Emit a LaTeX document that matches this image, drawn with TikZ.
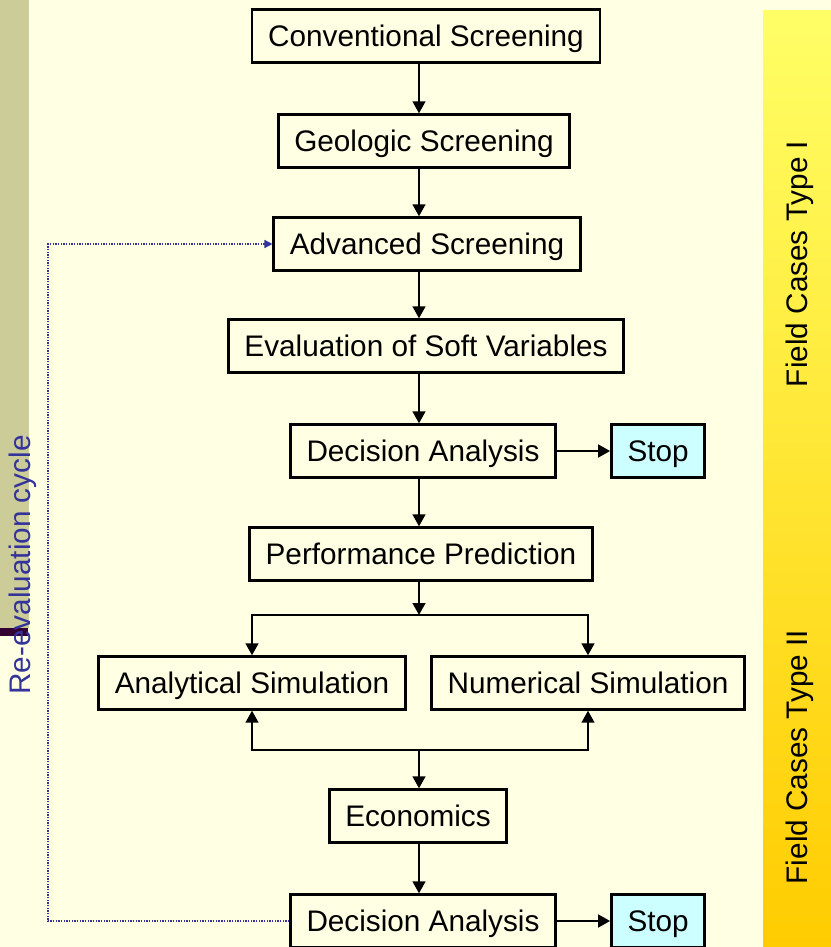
\documentclass[tikz,border=0pt]{standalone}
\usepackage{fontspec}
\setmainfont{Liberation Sans}
\usetikzlibrary{positioning,arrows.meta,calc}
\definecolor{paper}{HTML}{FFFFE3}
\definecolor{strip}{HTML}{CCCC99}
\definecolor{stripbar}{HTML}{330033}
\definecolor{stopcyan}{HTML}{CCFFFF}
\definecolor{loopblue}{HTML}{333399}
\definecolor{barTop}{HTML}{FFFF66}
\definecolor{barBottom}{HTML}{FFCC00}

\begin{document}
\begin{tikzpicture}[x=0.75pt, y=-0.75pt,
  box/.style={draw, rectangle, line width=2pt, minimum height=39.5pt, inner xsep=12pt,
    text height=15.8pt, text depth=0pt, font=\fontsize{22.3}{26}\selectfont},
  stopbox/.style={box, fill=stopcyan},
  sidetext/.style={rotate=90, font=\fontsize{22.3}{26}\selectfont},
  flow/.style={line width=1.8pt, -{Triangle[length=9pt,width=9.5pt]}},
  backloop/.style={draw=loopblue, densely dotted, line width=1pt, -{Triangle[length=6pt,width=6pt]}}]
\useasboundingbox (0,0) rectangle (831,947);
\clip (0,0) rectangle (831,947);
% background and side bars
\fill[paper] (0,0) rectangle (831,947);
\fill[strip] (0,0) rectangle (29,628);
\fill[stripbar] (0,628) rectangle (28,636);
\shade[top color=barTop, bottom color=barBottom] (763,10) rectangle (831,947);
\node[sidetext] (typeI) at (800,264) {Field Cases Type I};
\node[sidetext] (typeII) at (800,757) {Field Cases Type II};
\node[sidetext, text=loopblue] (recycle) at (23,565) {Re-evaluation cycle};

% the chart
\node[box] (conv) at (426,36) {Conventional Screening};
\node[box] (geo) at (424,141) {Geologic Screening};
\node[box] (adv) at (427,244) {Advanced Screening};
\node[box] (soft) at (426,346) {Evaluation of Soft Variables};
\node[box] (dec) at (423,451) {Decision Analysis};
\node[stopbox, right=40pt of dec] (stop) {Stop};
\node[box] (perf) at (421,554) {Performance Prediction};
\node[box] (ana) at (252,683) {Analytical Simulation};
\node[box] (num) at (588,683) {Numerical Simulation};
\node[box] (econ) at (418,816) {Economics};
\node[box] (dec2) at (423,921) {Decision Analysis};
\node[stopbox, right=40pt of dec2] (stop2) {Stop};

\coordinate (spine) at (419,0);
\coordinate (fork) at (419,615);
\coordinate (join) at (419,750);
\coordinate (back) at (48,0);

\draw[flow] (conv.south -| spine) -- (geo.north -| spine);
\draw[flow] (geo.south -| spine) -- (adv.north -| spine);
\draw[flow] (adv.south -| spine) -- (soft.north -| spine);
\draw[flow] (soft.south -| spine) -- (dec.north -| spine);
\draw[flow] (dec.south -| spine) -- (perf.north -| spine);
\draw[flow] (dec.east) -- (stop.west);
\draw[flow] (perf.south -| spine) -- (fork);
\draw[flow] (fork) -| (ana.north);
\draw[flow] (fork) -| (num.north);
\draw[flow] (join) -| (ana.south);
\draw[flow] (join) -| (num.south);
\draw[flow] (join) -- (econ.north -| spine);
\draw[flow] (econ.south -| spine) -- (dec2.north -| spine);
\draw[flow] (dec2.east) -- (stop2.west);
\draw[backloop] (dec2.west) -- (dec2.west -| back) |- (adv.west);
\end{tikzpicture}
\end{document}
